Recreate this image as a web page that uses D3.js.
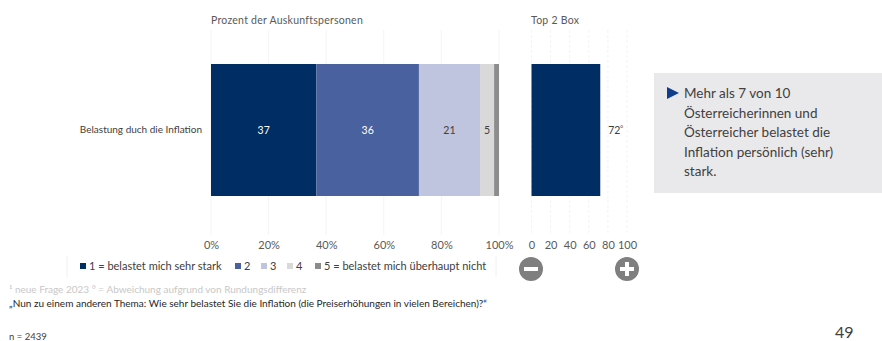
<!DOCTYPE html>
<html>
<head>
<meta charset="utf-8">
<script src="https://cdn.jsdelivr.net/npm/d3@7"></script>
<style>
    body { margin: 0; background: #fff; }
    svg { display: block; font-family: Lato, sans-serif; }
    .axis path, .axis line { display: none; }
    .axis text { font-family: Lato, sans-serif; font-size: 11px; fill: #595959; }
</style>
</head>
<body>
<div id="chart"></div>
<script>
const categories = ["Belastung duch die Inflation"];
const answerLabels = ["1 = belastet mich sehr stark", "2", "3", "4", "5 = belastet mich überhaupt nicht"];
const answerColors = ["#002d64", "#4a619f", "#bfc4df", "#d9d9d9", "#8c8c8c"];
const shareValues = [36.6, 35.6, 21.2, 4.9, 1.7];
const shareLabels = ["37", "36", "21", "5", ""];
const top2Values = [72];
const shareTicks = [0, 20, 40, 60, 80, 100];
const top2Ticks = [0, 20, 40, 60, 80, 100];
const noteLines = ["Mehr als 7 von 10", "Österreicherinnen und", "Österreicher belastet die", "Inflation persönlich (sehr)", "stark."];

const width = 882;
const height = 341;
const svg = d3.select('#chart')
    .append('svg')
        .attr('width', width)
        .attr('height', height);

const xShare = d3.scaleLinear().domain([0, 100]).range([211, 499]);
const xTop2 = d3.scaleLinear().domain([0, 100]).range([531.5, 627]);
const y = d3.scaleBand().domain(categories).range([64, 196]);
const gridTop = 30;
const gridBottom = 235;

// light gridlines behind the bars
[[xShare, shareTicks], [xTop2, top2Ticks]].forEach(([scale, ticks]) => {
    svg.append('g')
        .selectAll('line')
        .data(ticks)
        .join('line')
            .attr('x1', d => scale(d))
            .attr('x2', d => scale(d))
            .attr('y1', gridTop)
            .attr('y2', gridBottom)
            .attr('stroke', '#efefef')
            .attr('stroke-width', 0.7)
            .attr('stroke-dasharray', scale === xTop2 ? '3,2' : null);
});

svg.append('text')
    .attr('x', 211)
    .attr('y', 24)
    .attr('font-size', 10.5)
    .attr('letter-spacing', 0.25)
    .attr('fill', '#595959')
    .text('Prozent der Auskunftspersonen');

svg.append('text')
    .attr('x', 531)
    .attr('y', 24)
    .attr('font-size', 10.5)
    .attr('letter-spacing', 0.25)
    .attr('fill', '#595959')
    .text('Top 2 Box');

svg.append('text')
    .attr('x', 202)
    .attr('y', y(categories[0]) + y.bandwidth() / 2 + 3)
    .attr('text-anchor', 'end')
    .attr('font-size', 10)
    .attr('fill', '#404040')
    .text(categories[0]);

// stacked bar, starts[i] is where segment i begins
const starts = [0, ...d3.cumsum(shareValues)];
const segments = svg.append('g')
    .selectAll('g')
    .data(shareValues)
    .join('g');

segments.append('rect')
    .attr('x', (d, i) => xShare(starts[i]))
    .attr('y', y(categories[0]))
    .attr('width', d => xShare(d) - xShare(0))
    .attr('height', y.bandwidth())
    .attr('fill', (d, i) => answerColors[i]);

segments.append('text')
    .attr('x', (d, i) => xShare(starts[i] + d / 2))
    .attr('y', y(categories[0]) + y.bandwidth() / 2 + 4)
    .attr('text-anchor', 'middle')
    .attr('font-size', 10.5)
    .attr('fill', (d, i) => i < 2 ? '#fff' : '#404040')
    .text((d, i) => shareLabels[i]);

// top 2 box bar
svg.append('g')
    .selectAll('rect')
    .data(top2Values)
    .join('rect')
        .attr('x', xTop2(0))
        .attr('y', y(categories[0]))
        .attr('width', d => xTop2(d) - xTop2(0))
        .attr('height', y.bandwidth())
        .attr('fill', answerColors[0]);

svg.append('g')
    .selectAll('text')
    .data(top2Values)
    .join('text')
        .attr('x', d => xTop2(d) + 8)
        .attr('y', y(categories[0]) + y.bandwidth() / 2 + 4)
        .attr('font-size', 10.5)
        .attr('fill', '#404040')
        .text(d => d);

svg.append('text')
    .attr('x', 620)
    .attr('y', 131)
    .attr('font-size', 8)
    .attr('fill', '#595959')
    .text('°');

// axes, labels only
svg.append('g')
    .attr('class', 'axis')
    .attr('transform', 'translate(0,238)')
    .call(d3.axisBottom(xShare).tickValues(shareTicks).tickFormat(d => d + '%').tickSize(0));

svg.append('g')
    .attr('class', 'axis')
    .attr('transform', 'translate(0,238)')
    .call(d3.axisBottom(xTop2).tickValues(top2Ticks).tickSize(0));

// legend
const legendX = [80, 235, 261, 287, 315];
const legend = svg.append('g')
    .selectAll('g')
    .data(answerLabels)
    .join('g')
        .attr('transform', (d, i) => `translate(${legendX[i]},263)`);

legend.append('rect')
    .attr('width', 6)
    .attr('height', 6)
    .attr('fill', (d, i) => answerColors[i]);

legend.append('text')
    .attr('x', 9)
    .attr('y', 7)
    .attr('font-size', 11)
    .attr('fill', '#404040')
    .text(d => d);

svg.append('line')
    .attr('x1', 67).attr('x2', 67)
    .attr('y1', 256).attr('y2', 277)
    .attr('stroke', '#f0f0f0');

svg.append('line')
    .attr('x1', 496).attr('x2', 496)
    .attr('y1', 256).attr('y2', 277)
    .attr('stroke', '#f0f0f0');

// minus and plus icons
svg.append('circle').attr('cx', 531).attr('cy', 269).attr('r', 12).attr('fill', '#7f7f7f');
svg.append('rect').attr('x', 524).attr('y', 267).attr('width', 14).attr('height', 4).attr('fill', '#fff');
svg.append('circle').attr('cx', 627).attr('cy', 269).attr('r', 12).attr('fill', '#7f7f7f');
svg.append('rect').attr('x', 620).attr('y', 267).attr('width', 14).attr('height', 4).attr('fill', '#fff');
svg.append('rect').attr('x', 625).attr('y', 262).attr('width', 4).attr('height', 14).attr('fill', '#fff');

// footnotes
svg.append('text')
    .attr('x', 9)
    .attr('y', 293)
    .attr('font-size', 10)
    .attr('fill', '#c8c8c8')
    .text('¹ neue Frage 2023   ° = Abweichung aufgrund von Rundungsdifferenz');

svg.append('text')
    .attr('x', 9)
    .attr('y', 307)
    .attr('font-size', 10)
    .attr('fill', '#262626')
    .text('„Nun zu einem anderen Thema: Wie sehr belastet Sie die Inflation (die Preiserhöhungen in vielen Bereichen)?“');

svg.append('text')
    .attr('x', 9)
    .attr('y', 340)
    .attr('font-size', 9.5)
    .attr('fill', '#404040')
    .text('n = 2439');

svg.append('text')
    .attr('x', 835)
    .attr('y', 338)
    .attr('font-size', 16)
    .attr('fill', '#404040')
    .text('49');

// note box
svg.append('rect')
    .attr('x', 654)
    .attr('y', 73)
    .attr('width', 228)
    .attr('height', 120)
    .attr('fill', '#e9e9eb');

svg.append('path')
    .attr('d', 'M667 87 L679 93 L667 99 Z')
    .attr('fill', '#0f3f8c');

svg.append('text')
    .attr('font-size', 13.5)
    .attr('fill', '#404040')
    .selectAll('tspan')
    .data(noteLines)
    .join('tspan')
        .attr('x', 684)
        .attr('y', (d, i) => 98 + i * 19.5)
        .text(d => d);
</script>
</body>
</html>
